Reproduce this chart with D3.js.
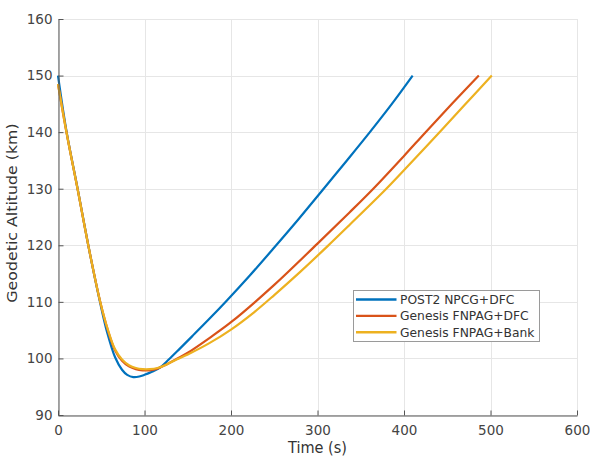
<!DOCTYPE html>
<html>
<head>
<meta charset="utf-8">
<script src="https://cdn.jsdelivr.net/npm/d3@7"></script>
<style>
  html, body { margin: 0; padding: 0; background: #fff; }
  svg { display: block; }
  text { font-family: "DejaVu Sans", sans-serif; }
</style>
</head>
<body>
<svg id="chart" width="590" height="457"></svg>
<script>
// Altitude profiles (time in s, geodetic altitude in km)
const post2Time = [0, 10, 22.7, 35, 48.5, 57, 66, 74, 80, 87, 94, 100, 108, 118, 128, 140, 155, 175, 195, 222, 250, 278, 305, 334, 361, 386, 410];
const post2Alt  = [150, 140, 130, 120, 110, 104.5, 100.2, 98.0, 97.1, 96.7, 96.8, 97.1, 97.6, 98.4, 99.8, 101.6, 103.9, 107.0, 110.2, 114.7, 119.6, 124.6, 129.6, 135.0, 140.1, 145.0, 150];

const dfcTime = [0, 10, 22.7, 35, 48.5, 58, 66, 74, 82, 90, 98, 106, 115, 125, 137, 150, 175, 200, 250, 300, 337, 364.5, 400, 425, 456, 486.5];
const dfcAlt  = [148.5, 139.8, 129.9, 120, 110.2, 104.8, 101.4, 99.6, 98.6, 98.1, 97.9, 97.9, 98.2, 98.9, 99.9, 101.0, 103.6, 106.4, 113.0, 120.3, 125.8, 130.0, 135.8, 140.0, 145.1, 150];

const bankTime = [0, 10, 22.7, 35, 48.5, 58, 66, 74, 82, 90, 98, 106, 115, 125, 137, 150, 175, 200, 227, 250, 280, 312, 337, 379, 410, 440, 470, 501.5];
const bankAlt  = [148.5, 139.8, 129.9, 120, 110.2, 104.9, 101.6, 99.8, 98.8, 98.3, 98.1, 98.1, 98.3, 98.9, 99.8, 100.7, 102.7, 105.1, 108.2, 111.2, 115.3, 119.9, 123.6, 129.9, 134.9, 139.8, 144.8, 150];

const seriesNames  = ["POST2 NPCG+DFC", "Genesis FNPAG+DFC", "Genesis FNPAG+Bank"];
const seriesColors = ["#0072BD", "#D95319", "#EDB120"];

const xTicks = [0, 100, 200, 300, 400, 500, 600];
const yTicks = [90, 100, 110, 120, 130, 140, 150, 160];
const xLabel = "Time (s)";
const yLabel = "Geodetic Altitude (km)";

const series = [
  { name: seriesNames[0], color: seriesColors[0], pts: post2Time.map((t, i) => [t, post2Alt[i]]) },
  { name: seriesNames[1], color: seriesColors[1], pts: dfcTime.map((t, i) => [t, dfcAlt[i]]) },
  { name: seriesNames[2], color: seriesColors[2], pts: bankTime.map((t, i) => [t, bankAlt[i]]) }
];

const svg = d3.select("#chart");
const margin = { left: 58, right: 13, top: 19, bottom: 42 };
const W = 590, H = 457;

const x = d3.scaleLinear().domain([0, 600]).range([margin.left, W - margin.right]);
const y = d3.scaleLinear().domain([90, 160]).range([H - margin.bottom, margin.top]);

// grid
const grid = svg.append("g").attr("stroke", "#e6e6e6").attr("stroke-width", 1);
grid.selectAll("line.vx").data(xTicks).join("line")
  .attr("x1", d => Math.round(x(d)) + 0.5).attr("x2", d => Math.round(x(d)) + 0.5)
  .attr("y1", y(90)).attr("y2", y(160));
grid.selectAll("line.hy").data(yTicks).join("line")
  .attr("y1", d => Math.round(y(d)) + 0.5).attr("y2", d => Math.round(y(d)) + 0.5)
  .attr("x1", x(0)).attr("x2", x(600));

// curves
const line = d3.line().x(d => x(d[0])).y(d => y(d[1])).curve(d3.curveCatmullRom.alpha(0.5));
const plot = svg.append("g");
series.forEach(s => {
  plot.append("path").datum(s.pts)
    .attr("d", line)
    .attr("fill", "none")
    .attr("stroke", s.color)
    .attr("stroke-width", 2.2)
    .attr("stroke-linejoin", "round")
    .attr("stroke-linecap", "butt");
});

// axes (ticks pointing inward)
const xAxis = d3.axisBottom(x).tickValues(xTicks).tickSizeInner(-5).tickSizeOuter(0).tickPadding(10);
const yAxis = d3.axisLeft(y).tickValues(yTicks).tickSizeInner(-5).tickSizeOuter(0).tickPadding(6);

const gx = svg.append("g").attr("transform", `translate(0,${Math.round(y(90)) + 0.5})`).call(xAxis);
const gy = svg.append("g").attr("transform", `translate(${Math.round(x(0)) + 0.5},0)`).call(yAxis);
[gx, gy].forEach(g => {
  g.select(".domain").attr("stroke", "#555");
  g.selectAll(".tick line").attr("stroke", "#555");
  g.selectAll(".tick text").attr("fill", "#444").attr("font-size", 13.5)
    .attr("font-family", "DejaVu Sans, sans-serif");
});

// axis titles
svg.append("text")
  .attr("transform", `translate(${(x(0) + x(600)) / 2},453) scale(1,1.1)`)
  .attr("text-anchor", "middle").attr("font-size", 14.5).attr("fill", "#333").text(xLabel);
svg.append("text")
  .attr("transform", `translate(17,${(y(90) + y(160)) / 2 - 4}) rotate(-90) scale(1.13,1)`)
  .attr("text-anchor", "middle").attr("font-size", 14).attr("fill", "#333").text(yLabel);

// legend
const lg = svg.append("g").attr("transform", "translate(353.5,290.5)");
lg.append("rect").attr("width", 186).attr("height", 51)
  .attr("fill", "#fff").attr("stroke", "#9a9a9a").attr("stroke-width", 1);
series.forEach((s, i) => {
  const cy = 9 + i * 16.4;
  lg.append("line").attr("x1", 2.5).attr("x2", 43).attr("y1", cy).attr("y2", cy)
    .attr("stroke", s.color).attr("stroke-width", 2.4);
  lg.append("text").attr("x", 46.5).attr("y", cy).attr("dy", "0.36em")
    .attr("font-size", 12.3).attr("fill", "#333").text(s.name);
});
</script>
</body>
</html>
